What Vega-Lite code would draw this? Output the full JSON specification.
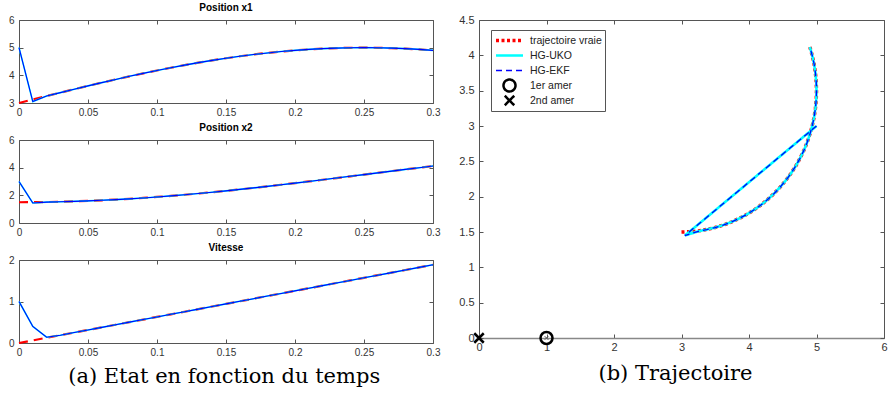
{
  "$schema": "https://vega.github.io/schema/vega-lite/v6.json",
  "background": "white",
  "padding": {"left": 8, "top": 3, "right": 0, "bottom": 0},
  "datasets": {
    "traj": [
      {"t":0,"s":"trajectoire vraie","x1":3,"x2":1.5,"v":0},
      {"t":0.01,"s":"trajectoire vraie","x1":3.126,"x2":1.504,"v":0.063},
      {"t":0.02,"s":"trajectoire vraie","x1":3.251,"x2":1.516,"v":0.126},
      {"t":0.03,"s":"trajectoire vraie","x1":3.375,"x2":1.535,"v":0.188},
      {"t":0.04,"s":"trajectoire vraie","x1":3.497,"x2":1.563,"v":0.251},
      {"t":0.05,"s":"trajectoire vraie","x1":3.618,"x2":1.598,"v":0.314},
      {"t":0.06,"s":"trajectoire vraie","x1":3.736,"x2":1.64,"v":0.377},
      {"t":0.07,"s":"trajectoire vraie","x1":3.852,"x2":1.69,"v":0.44},
      {"t":0.08,"s":"trajectoire vraie","x1":3.964,"x2":1.747,"v":0.503},
      {"t":0.09,"s":"trajectoire vraie","x1":4.072,"x2":1.811,"v":0.565},
      {"t":0.1,"s":"trajectoire vraie","x1":4.176,"x2":1.882,"v":0.628},
      {"t":0.11,"s":"trajectoire vraie","x1":4.275,"x2":1.959,"v":0.691},
      {"t":0.12,"s":"trajectoire vraie","x1":4.369,"x2":2.042,"v":0.754},
      {"t":0.13,"s":"trajectoire vraie","x1":4.458,"x2":2.131,"v":0.817},
      {"t":0.14,"s":"trajectoire vraie","x1":4.541,"x2":2.225,"v":0.88},
      {"t":0.15,"s":"trajectoire vraie","x1":4.618,"x2":2.324,"v":0.942},
      {"t":0.16,"s":"trajectoire vraie","x1":4.689,"x2":2.428,"v":1.005},
      {"t":0.17,"s":"trajectoire vraie","x1":4.753,"x2":2.537,"v":1.068},
      {"t":0.18,"s":"trajectoire vraie","x1":4.81,"x2":2.648,"v":1.131},
      {"t":0.19,"s":"trajectoire vraie","x1":4.86,"x2":2.764,"v":1.194},
      {"t":0.2,"s":"trajectoire vraie","x1":4.902,"x2":2.882,"v":1.257},
      {"t":0.21,"s":"trajectoire vraie","x1":4.937,"x2":3.003,"v":1.319},
      {"t":0.22,"s":"trajectoire vraie","x1":4.965,"x2":3.125,"v":1.382},
      {"t":0.23,"s":"trajectoire vraie","x1":4.984,"x2":3.249,"v":1.445},
      {"t":0.24,"s":"trajectoire vraie","x1":4.996,"x2":3.374,"v":1.508},
      {"t":0.25,"s":"trajectoire vraie","x1":5,"x2":3.5,"v":1.571},
      {"t":0.26,"s":"trajectoire vraie","x1":4.996,"x2":3.626,"v":1.634},
      {"t":0.27,"s":"trajectoire vraie","x1":4.984,"x2":3.751,"v":1.696},
      {"t":0.28,"s":"trajectoire vraie","x1":4.965,"x2":3.875,"v":1.759},
      {"t":0.29,"s":"trajectoire vraie","x1":4.937,"x2":3.997,"v":1.822},
      {"t":0.3,"s":"trajectoire vraie","x1":4.902,"x2":4.118,"v":1.885},
      {"t":0,"s":"HG-UKO","x1":5,"x2":3,"v":1},
      {"t":0.01,"s":"HG-UKO","x1":3.05,"x2":1.45,"v":0.4},
      {"t":0.02,"s":"HG-UKO","x1":3.25,"x2":1.51,"v":0.14},
      {"t":0.03,"s":"HG-UKO","x1":3.375,"x2":1.535,"v":0.188},
      {"t":0.04,"s":"HG-UKO","x1":3.497,"x2":1.563,"v":0.251},
      {"t":0.05,"s":"HG-UKO","x1":3.618,"x2":1.598,"v":0.314},
      {"t":0.06,"s":"HG-UKO","x1":3.736,"x2":1.64,"v":0.377},
      {"t":0.07,"s":"HG-UKO","x1":3.852,"x2":1.69,"v":0.44},
      {"t":0.08,"s":"HG-UKO","x1":3.964,"x2":1.747,"v":0.503},
      {"t":0.09,"s":"HG-UKO","x1":4.072,"x2":1.811,"v":0.565},
      {"t":0.1,"s":"HG-UKO","x1":4.176,"x2":1.882,"v":0.628},
      {"t":0.11,"s":"HG-UKO","x1":4.275,"x2":1.959,"v":0.691},
      {"t":0.12,"s":"HG-UKO","x1":4.369,"x2":2.042,"v":0.754},
      {"t":0.13,"s":"HG-UKO","x1":4.458,"x2":2.131,"v":0.817},
      {"t":0.14,"s":"HG-UKO","x1":4.541,"x2":2.225,"v":0.88},
      {"t":0.15,"s":"HG-UKO","x1":4.618,"x2":2.324,"v":0.942},
      {"t":0.16,"s":"HG-UKO","x1":4.689,"x2":2.428,"v":1.005},
      {"t":0.17,"s":"HG-UKO","x1":4.753,"x2":2.537,"v":1.068},
      {"t":0.18,"s":"HG-UKO","x1":4.81,"x2":2.648,"v":1.131},
      {"t":0.19,"s":"HG-UKO","x1":4.86,"x2":2.764,"v":1.194},
      {"t":0.2,"s":"HG-UKO","x1":4.902,"x2":2.882,"v":1.257},
      {"t":0.21,"s":"HG-UKO","x1":4.937,"x2":3.003,"v":1.319},
      {"t":0.22,"s":"HG-UKO","x1":4.965,"x2":3.125,"v":1.382},
      {"t":0.23,"s":"HG-UKO","x1":4.984,"x2":3.249,"v":1.445},
      {"t":0.24,"s":"HG-UKO","x1":4.996,"x2":3.374,"v":1.508},
      {"t":0.25,"s":"HG-UKO","x1":5,"x2":3.5,"v":1.571},
      {"t":0.26,"s":"HG-UKO","x1":4.996,"x2":3.626,"v":1.634},
      {"t":0.27,"s":"HG-UKO","x1":4.984,"x2":3.751,"v":1.696},
      {"t":0.28,"s":"HG-UKO","x1":4.965,"x2":3.875,"v":1.759},
      {"t":0.29,"s":"HG-UKO","x1":4.937,"x2":3.997,"v":1.822},
      {"t":0.3,"s":"HG-UKO","x1":4.902,"x2":4.118,"v":1.885},
      {"t":0,"s":"HG-EKF","x1":5,"x2":3,"v":1},
      {"t":0.01,"s":"HG-EKF","x1":3.05,"x2":1.45,"v":0.4},
      {"t":0.02,"s":"HG-EKF","x1":3.25,"x2":1.51,"v":0.14},
      {"t":0.03,"s":"HG-EKF","x1":3.375,"x2":1.535,"v":0.188},
      {"t":0.04,"s":"HG-EKF","x1":3.497,"x2":1.563,"v":0.251},
      {"t":0.05,"s":"HG-EKF","x1":3.618,"x2":1.598,"v":0.314},
      {"t":0.06,"s":"HG-EKF","x1":3.736,"x2":1.64,"v":0.377},
      {"t":0.07,"s":"HG-EKF","x1":3.852,"x2":1.69,"v":0.44},
      {"t":0.08,"s":"HG-EKF","x1":3.964,"x2":1.747,"v":0.503},
      {"t":0.09,"s":"HG-EKF","x1":4.072,"x2":1.811,"v":0.565},
      {"t":0.1,"s":"HG-EKF","x1":4.176,"x2":1.882,"v":0.628},
      {"t":0.11,"s":"HG-EKF","x1":4.275,"x2":1.959,"v":0.691},
      {"t":0.12,"s":"HG-EKF","x1":4.369,"x2":2.042,"v":0.754},
      {"t":0.13,"s":"HG-EKF","x1":4.458,"x2":2.131,"v":0.817},
      {"t":0.14,"s":"HG-EKF","x1":4.541,"x2":2.225,"v":0.88},
      {"t":0.15,"s":"HG-EKF","x1":4.618,"x2":2.324,"v":0.942},
      {"t":0.16,"s":"HG-EKF","x1":4.689,"x2":2.428,"v":1.005},
      {"t":0.17,"s":"HG-EKF","x1":4.753,"x2":2.537,"v":1.068},
      {"t":0.18,"s":"HG-EKF","x1":4.81,"x2":2.648,"v":1.131},
      {"t":0.19,"s":"HG-EKF","x1":4.86,"x2":2.764,"v":1.194},
      {"t":0.2,"s":"HG-EKF","x1":4.902,"x2":2.882,"v":1.257},
      {"t":0.21,"s":"HG-EKF","x1":4.937,"x2":3.003,"v":1.319},
      {"t":0.22,"s":"HG-EKF","x1":4.965,"x2":3.125,"v":1.382},
      {"t":0.23,"s":"HG-EKF","x1":4.984,"x2":3.249,"v":1.445},
      {"t":0.24,"s":"HG-EKF","x1":4.996,"x2":3.374,"v":1.508},
      {"t":0.25,"s":"HG-EKF","x1":5,"x2":3.5,"v":1.571},
      {"t":0.26,"s":"HG-EKF","x1":4.996,"x2":3.626,"v":1.634},
      {"t":0.27,"s":"HG-EKF","x1":4.984,"x2":3.751,"v":1.696},
      {"t":0.28,"s":"HG-EKF","x1":4.965,"x2":3.875,"v":1.759},
      {"t":0.29,"s":"HG-EKF","x1":4.937,"x2":3.997,"v":1.822},
      {"t":0.3,"s":"HG-EKF","x1":4.902,"x2":4.118,"v":1.885}
    ],
    "amers": [
      {"x1":1,"x2":0,"s":"1er amer"},
      {"x1":0,"x2":0,"s":"2nd amer"}
    ]
  },
  "config": {
    "view": {"stroke": null},
    "font": "Liberation Sans",
    "axis": {"grid": false, "domainColor": "#555", "tickColor": "#555", "labelColor": "#333", "labelFont": "Liberation Sans", "tickSize": -4, "labelFlush": false, "labelOverlap": false, "format": "~g"},
    "axisX": {"labelPadding": 8},
    "axisY": {"labelPadding": 9},
    "title": {"font": "Liberation Sans", "fontSize": 10, "fontWeight": "bold", "color": "#000", "offset": 2},
    "legend": {"padding": 3, "clipHeight": 15, "rowPadding": 0, "labelOffset": 5, "symbolOffset": 0, "labelFont": "Liberation Sans", "labelFontSize": 10.5, "labelColor": "#222", "strokeColor": "#555", "fillColor": "#ffffff", "cornerRadius": 0}
  },
  "bounds": "flush",
  "spacing": 460,
  "resolve": {"scale": {"color": "independent", "shape": "independent", "size": "independent", "strokeDash": "independent", "strokeWidth": "independent"}},
  "hconcat": [
    {
      "bounds": "flush",
      "spacing": 37,
      "title": {"text": "(a) Etat en fonction du temps", "orient": "bottom", "font": "DejaVu Serif", "fontSize": 21, "fontWeight": "normal", "color": "#000", "offset": 9, "anchor": "middle"},
      "vconcat": [
        {
          "width": 414, "height": 83,
          "title": {"text": "Position x1"},
          "data": {"name": "traj"},
          "layer": [
            {"transform": [{"filter": "datum.s === 'trajectoire vraie'"}],
             "mark": {"type": "line", "color": "#ff0000", "strokeWidth": 2.2, "strokeDash": [9, 6]},
             "encoding": {
               "x": {"field": "t", "type": "quantitative", "title": null, "scale": {"domain": [0, 0.3], "nice": false}, "axis": {"orient": "bottom", "values": [0, 0.05, 0.1, 0.15, 0.2, 0.25, 0.3], "labelFontSize": 10}},
               "y": {"field": "x1", "type": "quantitative", "title": null, "scale": {"domain": [3, 6], "nice": false, "zero": false}, "axis": {"orient": "left", "values": [3, 4, 5, 6], "labelFontSize": 10}}}},
            {"transform": [{"filter": "datum.s === 'HG-UKO'"}],
             "mark": {"type": "line", "color": "#00ffff", "strokeWidth": 1.6},
             "encoding": {
               "x": {"field": "t", "type": "quantitative", "title": null, "scale": {"domain": [0, 0.3], "nice": false}, "axis": null},
               "y": {"field": "x1", "type": "quantitative", "title": null, "scale": {"domain": [3, 6], "nice": false, "zero": false}, "axis": null}}},
            {"transform": [{"filter": "datum.s === 'HG-EKF'"}],
             "mark": {"type": "line", "color": "#0000ff", "strokeWidth": 1.1},
             "encoding": {
               "x": {"field": "t", "type": "quantitative", "title": null, "scale": {"domain": [0, 0.3], "nice": false}, "axis": {"orient": "top", "labels": false, "values": [0, 0.05, 0.1, 0.15, 0.2, 0.25, 0.3]}},
               "y": {"field": "x1", "type": "quantitative", "title": null, "scale": {"domain": [3, 6], "nice": false, "zero": false}, "axis": {"orient": "right", "labels": false, "values": [3, 4, 5, 6]}}}}
          ],
          "resolve": {"axis": {"x": "independent", "y": "independent"}}
        },
        {
          "width": 414, "height": 83,
          "title": {"text": "Position x2"},
          "data": {"name": "traj"},
          "layer": [
            {"transform": [{"filter": "datum.s === 'trajectoire vraie'"}],
             "mark": {"type": "line", "color": "#ff0000", "strokeWidth": 2.2, "strokeDash": [9, 6]},
             "encoding": {
               "x": {"field": "t", "type": "quantitative", "title": null, "scale": {"domain": [0, 0.3], "nice": false}, "axis": {"orient": "bottom", "values": [0, 0.05, 0.1, 0.15, 0.2, 0.25, 0.3], "labelFontSize": 10}},
               "y": {"field": "x2", "type": "quantitative", "title": null, "scale": {"domain": [0, 6], "nice": false}, "axis": {"orient": "left", "values": [0, 2, 4, 6], "labelFontSize": 10}}}},
            {"transform": [{"filter": "datum.s === 'HG-UKO'"}],
             "mark": {"type": "line", "color": "#00ffff", "strokeWidth": 1.6},
             "encoding": {
               "x": {"field": "t", "type": "quantitative", "title": null, "scale": {"domain": [0, 0.3], "nice": false}, "axis": null},
               "y": {"field": "x2", "type": "quantitative", "title": null, "scale": {"domain": [0, 6], "nice": false}, "axis": null}}},
            {"transform": [{"filter": "datum.s === 'HG-EKF'"}],
             "mark": {"type": "line", "color": "#0000ff", "strokeWidth": 1.1},
             "encoding": {
               "x": {"field": "t", "type": "quantitative", "title": null, "scale": {"domain": [0, 0.3], "nice": false}, "axis": {"orient": "top", "labels": false, "values": [0, 0.05, 0.1, 0.15, 0.2, 0.25, 0.3]}},
               "y": {"field": "x2", "type": "quantitative", "title": null, "scale": {"domain": [0, 6], "nice": false}, "axis": {"orient": "right", "labels": false, "values": [0, 2, 4, 6]}}}}
          ],
          "resolve": {"axis": {"x": "independent", "y": "independent"}}
        },
        {
          "width": 414, "height": 83,
          "title": {"text": "Vitesse"},
          "data": {"name": "traj"},
          "layer": [
            {"transform": [{"filter": "datum.s === 'trajectoire vraie'"}],
             "mark": {"type": "line", "color": "#ff0000", "strokeWidth": 2.2, "strokeDash": [9, 6]},
             "encoding": {
               "x": {"field": "t", "type": "quantitative", "title": null, "scale": {"domain": [0, 0.3], "nice": false}, "axis": {"orient": "bottom", "values": [0, 0.05, 0.1, 0.15, 0.2, 0.25, 0.3], "labelFontSize": 10}},
               "y": {"field": "v", "type": "quantitative", "title": null, "scale": {"domain": [0, 2], "nice": false}, "axis": {"orient": "left", "values": [0, 1, 2], "labelFontSize": 10}}}},
            {"transform": [{"filter": "datum.s === 'HG-UKO'"}],
             "mark": {"type": "line", "color": "#00ffff", "strokeWidth": 1.6},
             "encoding": {
               "x": {"field": "t", "type": "quantitative", "title": null, "scale": {"domain": [0, 0.3], "nice": false}, "axis": null},
               "y": {"field": "v", "type": "quantitative", "title": null, "scale": {"domain": [0, 2], "nice": false}, "axis": null}}},
            {"transform": [{"filter": "datum.s === 'HG-EKF'"}],
             "mark": {"type": "line", "color": "#0000ff", "strokeWidth": 1.1},
             "encoding": {
               "x": {"field": "t", "type": "quantitative", "title": null, "scale": {"domain": [0, 0.3], "nice": false}, "axis": {"orient": "top", "labels": false, "values": [0, 0.05, 0.1, 0.15, 0.2, 0.25, 0.3]}},
               "y": {"field": "v", "type": "quantitative", "title": null, "scale": {"domain": [0, 2], "nice": false}, "axis": {"orient": "right", "labels": false, "values": [0, 1, 2]}}}}
          ],
          "resolve": {"axis": {"x": "independent", "y": "independent"}}
        }
      ]
    },
    {
      "width": 405, "height": 318,
      "title": {"text": "(b) Trajectoire", "orient": "bottom", "font": "DejaVu Serif", "fontSize": 21, "fontWeight": "normal", "color": "#000", "offset": 11, "anchor": "middle", "dx": -6},
      "layer": [
        {"data": {"name": "traj"},
         "transform": [{"filter": "datum.s === 'trajectoire vraie'"}],
         "mark": {"type": "line"},
         "encoding": {
           "x": {"field": "x1", "type": "quantitative", "title": null, "scale": {"domain": [0, 6], "nice": false}, "axis": {"orient": "bottom", "values": [0, 1, 2, 3, 4, 5, 6], "labelFontSize": 11, "labelPadding": 7, "domainColor": "#888", "domainWidth": 1.5}},
           "y": {"field": "x2", "type": "quantitative", "title": null, "scale": {"domain": [0, 4.5], "nice": false}, "axis": {"orient": "left", "values": [0, 0.5, 1, 1.5, 2, 2.5, 3, 3.5, 4, 4.5], "labelFontSize": 11}},
           "order": {"field": "t", "type": "quantitative"},
           "color": {"field": "s", "type": "nominal", "scale": {"domain": ["trajectoire vraie", "HG-UKO", "HG-EKF", "1er amer", "2nd amer"], "range": ["#ff0000", "#00ffff", "#0000ff", "#000000", "#000000"]}, "legend": {"title": null, "orient": "none", "legendX": 12, "legendY": 10}},
           "strokeDash": {"field": "s", "type": "nominal", "scale": {"domain": ["trajectoire vraie", "HG-UKO", "HG-EKF", "1er amer", "2nd amer"], "range": [[3, 2.5], [1, 0], [6, 4], [1, 0], [1, 0]]}, "legend": {"title": null, "orient": "none", "legendX": 12, "legendY": 10}},
           "strokeWidth": {"field": "s", "type": "nominal", "scale": {"type": "ordinal", "domain": ["trajectoire vraie", "HG-UKO", "HG-EKF", "1er amer", "2nd amer"], "range": [3.5, 2.6, 1.3, 2.5, 2.5]}, "legend": {"title": null, "orient": "none", "legendX": 12, "legendY": 10}}}},
        {"data": {"name": "traj"},
         "transform": [{"filter": "datum.s === 'HG-UKO'"}],
         "mark": {"type": "line"},
         "encoding": {
           "x": {"field": "x1", "type": "quantitative", "title": null, "scale": {"domain": [0, 6], "nice": false}, "axis": null},
           "y": {"field": "x2", "type": "quantitative", "title": null, "scale": {"domain": [0, 4.5], "nice": false}, "axis": null},
           "order": {"field": "t", "type": "quantitative"},
           "color": {"field": "s", "type": "nominal", "scale": {"domain": ["trajectoire vraie", "HG-UKO", "HG-EKF", "1er amer", "2nd amer"], "range": ["#ff0000", "#00ffff", "#0000ff", "#000000", "#000000"]}, "legend": {"title": null, "orient": "none", "legendX": 12, "legendY": 10}},
           "strokeDash": {"field": "s", "type": "nominal", "scale": {"domain": ["trajectoire vraie", "HG-UKO", "HG-EKF", "1er amer", "2nd amer"], "range": [[3, 2.5], [1, 0], [6, 4], [1, 0], [1, 0]]}, "legend": {"title": null, "orient": "none", "legendX": 12, "legendY": 10}},
           "strokeWidth": {"field": "s", "type": "nominal", "scale": {"type": "ordinal", "domain": ["trajectoire vraie", "HG-UKO", "HG-EKF", "1er amer", "2nd amer"], "range": [3.5, 2.6, 1.3, 2.5, 2.5]}, "legend": {"title": null, "orient": "none", "legendX": 12, "legendY": 10}}}},
        {"data": {"name": "traj"},
         "transform": [{"filter": "datum.s === 'HG-EKF'"}],
         "mark": {"type": "line"},
         "encoding": {
           "x": {"field": "x1", "type": "quantitative", "title": null, "scale": {"domain": [0, 6], "nice": false}, "axis": {"orient": "top", "labels": false, "values": [0, 1, 2, 3, 4, 5, 6]}},
           "y": {"field": "x2", "type": "quantitative", "title": null, "scale": {"domain": [0, 4.5], "nice": false}, "axis": {"orient": "right", "labels": false, "values": [0, 0.5, 1, 1.5, 2, 2.5, 3, 3.5, 4, 4.5]}},
           "order": {"field": "t", "type": "quantitative"},
           "color": {"field": "s", "type": "nominal", "scale": {"domain": ["trajectoire vraie", "HG-UKO", "HG-EKF", "1er amer", "2nd amer"], "range": ["#ff0000", "#00ffff", "#0000ff", "#000000", "#000000"]}, "legend": {"title": null, "orient": "none", "legendX": 12, "legendY": 10}},
           "strokeDash": {"field": "s", "type": "nominal", "scale": {"domain": ["trajectoire vraie", "HG-UKO", "HG-EKF", "1er amer", "2nd amer"], "range": [[3, 2.5], [1, 0], [6, 4], [1, 0], [1, 0]]}, "legend": {"title": null, "orient": "none", "legendX": 12, "legendY": 10}},
           "strokeWidth": {"field": "s", "type": "nominal", "scale": {"type": "ordinal", "domain": ["trajectoire vraie", "HG-UKO", "HG-EKF", "1er amer", "2nd amer"], "range": [3.5, 2.6, 1.3, 2.5, 2.5]}, "legend": {"title": null, "orient": "none", "legendX": 12, "legendY": 10}}}},
        {"data": {"name": "amers"},
         "mark": {"type": "point", "filled": false, "opacity": 1},
         "encoding": {
           "x": {"field": "x1", "type": "quantitative", "title": null, "scale": {"domain": [0, 6], "nice": false}, "axis": null},
           "y": {"field": "x2", "type": "quantitative", "title": null, "scale": {"domain": [0, 4.5], "nice": false}, "axis": null},
           "color": {"field": "s", "type": "nominal", "scale": {"domain": ["trajectoire vraie", "HG-UKO", "HG-EKF", "1er amer", "2nd amer"], "range": ["#ff0000", "#00ffff", "#0000ff", "#000000", "#000000"]}, "legend": {"title": null, "orient": "none", "legendX": 12, "legendY": 10}},
           "shape": {"field": "s", "type": "nominal", "scale": {"domain": ["trajectoire vraie", "HG-UKO", "HG-EKF", "1er amer", "2nd amer"], "range": ["stroke", "stroke", "stroke", "circle", "M-1,-1L1,1M-1,1L1,-1"]}, "legend": {"title": null, "orient": "none", "legendX": 12, "legendY": 10}},
           "size": {"field": "s", "type": "nominal", "scale": {"type": "ordinal", "domain": ["trajectoire vraie", "HG-UKO", "HG-EKF", "1er amer", "2nd amer"], "range": [729, 729, 729, 144, 90]}, "legend": {"title": null, "orient": "none", "legendX": 12, "legendY": 10}},
           "strokeWidth": {"field": "s", "type": "nominal", "scale": {"type": "ordinal", "domain": ["trajectoire vraie", "HG-UKO", "HG-EKF", "1er amer", "2nd amer"], "range": [3.5, 2.6, 1.3, 2.5, 2.5]}, "legend": {"title": null, "orient": "none", "legendX": 12, "legendY": 10}}}},
        {"data": {"values": [{"x1": 1, "x2": 0}]},
         "mark": {"type": "point", "shape": "M-1,-1L1,1M-1,1L1,-1", "size": 14, "color": "#555", "strokeWidth": 1, "filled": false, "opacity": 1},
         "encoding": {
           "x": {"field": "x1", "type": "quantitative", "title": null, "scale": {"domain": [0, 6], "nice": false}, "axis": null},
           "y": {"field": "x2", "type": "quantitative", "title": null, "scale": {"domain": [0, 4.5], "nice": false}, "axis": null}}}
      ],
      "resolve": {"axis": {"x": "independent", "y": "independent"}}
    }
  ]
}
